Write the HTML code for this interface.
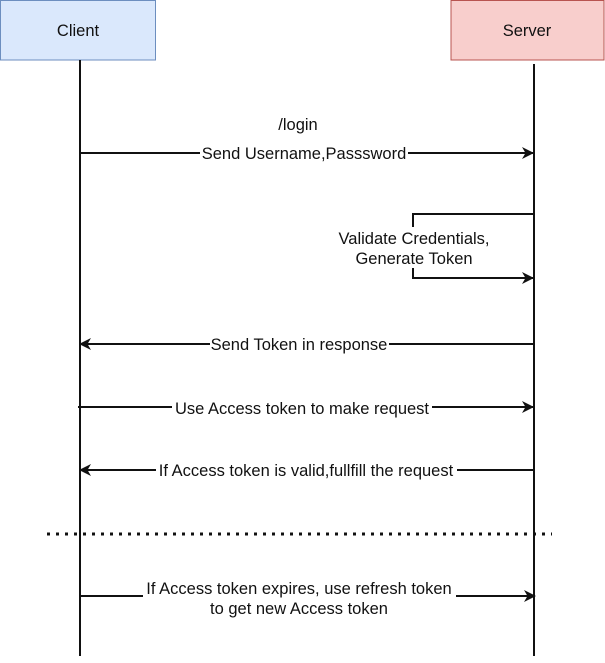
<!DOCTYPE html>
<html><head><style>
body{margin:0;background:#fff;}
svg text{font-family:"Liberation Sans",Arial,sans-serif;font-size:16.5px;fill:#111;}
</style></head><body>
<svg width="605" height="658" xmlns="http://www.w3.org/2000/svg">
<defs><marker id="a" markerWidth="12" markerHeight="12" refX="11" refY="6" orient="auto" markerUnits="userSpaceOnUse"><path d="M0,0 L12,6 L0,12 L3.5,6 Z" fill="#111"/></marker></defs>
<rect x="0.5" y="0.5" width="155" height="59.5" fill="#dae8fc" stroke="#6c8ebf"/>
<text x="78" y="36" text-anchor="middle">Client</text>
<rect x="451" y="0.5" width="153" height="59.5" fill="#f8cecc" stroke="#b85450"/>
<text x="527" y="36" text-anchor="middle">Server</text>
<g stroke="#111" stroke-width="2" fill="none">
<line x1="80" y1="60" x2="80" y2="656"/>
<line x1="534" y1="64" x2="534" y2="656"/>
<line x1="80" y1="153" x2="533" y2="153" marker-end="url(#a)"/>
<polyline points="533,214 413,214 413,227"/>
<polyline points="413,268 413,278 533,278" marker-end="url(#a)"/>
<line x1="533" y1="344" x2="80" y2="344" marker-end="url(#a)"/>
<line x1="78" y1="407" x2="533" y2="407" marker-end="url(#a)"/>
<line x1="533" y1="470" x2="80" y2="470" marker-end="url(#a)"/>
<line x1="80" y1="596" x2="535" y2="596" marker-end="url(#a)"/>
<line x1="47" y1="534" x2="552" y2="534" stroke-dasharray="3,6" stroke-width="3"/>
</g>
<text x="298" y="130" text-anchor="middle">/login</text>
<rect x="200" y="144" width="208" height="18" fill="#fff"/>
<text x="304" y="159" text-anchor="middle">Send Username,Passsword</text>
<text x="414" y="244" text-anchor="middle">Validate Credentials,</text>
<text x="414" y="264" text-anchor="middle">Generate Token</text>
<rect x="210" y="335" width="179" height="18" fill="#fff"/>
<text x="299" y="350" text-anchor="middle">Send Token in response</text>
<rect x="172" y="398" width="260" height="18" fill="#fff"/>
<text x="302" y="414" text-anchor="middle">Use Access token to make request</text>
<rect x="156" y="461" width="301" height="18" fill="#fff"/>
<text x="306" y="476" text-anchor="middle">If Access token is valid,fullfill the request</text>
<rect x="143" y="580" width="313" height="38" fill="#fff"/>
<text x="299" y="594" text-anchor="middle">If Access token expires, use refresh token</text>
<text x="299" y="614" text-anchor="middle">to get new Access token</text>
</svg>
</body></html>
